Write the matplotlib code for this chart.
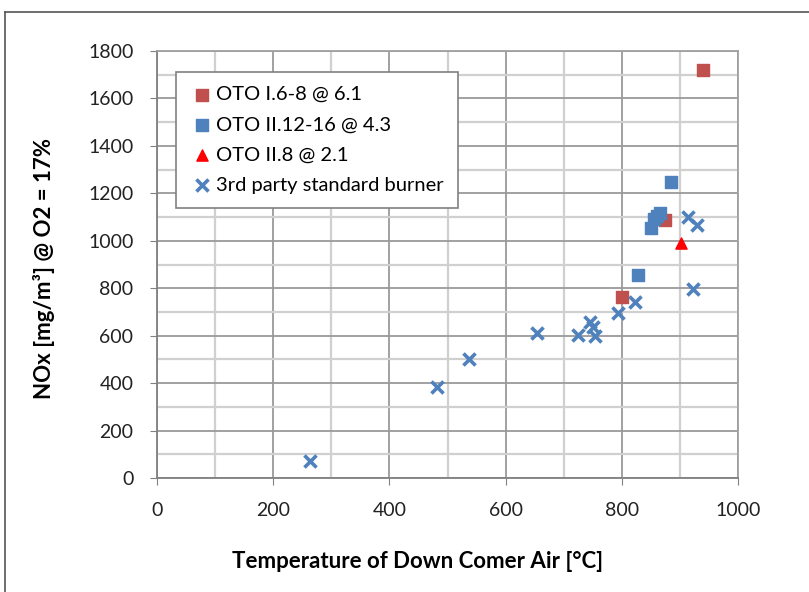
import matplotlib.pyplot as plt
from matplotlib.lines import Line2D
from matplotlib.ticker import MultipleLocator

# OTO I.6-8 @ 6.1
oto1_x = [800, 875, 940]
oto1_y = [763, 1086, 1720]
# OTO II.12-16 @ 4.3
oto2_x = [828, 850, 855, 860, 865, 885]
oto2_y = [856, 1055, 1090, 1105, 1115, 1248]
# OTO II.8 @ 2.1
oto3_x = [902]
oto3_y = [990]
# 3rd party standard burner
std_x = [263, 482, 537, 654, 725, 745, 751, 754, 793, 823, 914, 929, 923]
std_y = [72, 384, 502, 612, 603, 658, 637, 599, 696, 742, 1100, 1067, 797]

plt.rcParams['font.family'] = ['Lato', 'DejaVu Sans']

fig = plt.figure(figsize=(8.09, 5.92), dpi=100)
ax = fig.add_axes([157/809, 1 - 478/592, 581/809, 427/592])

# outer frame (top and left edges visible)
fig.add_artist(Line2D([5/809, 1.0], [1 - 12/592, 1 - 12/592], color='#555555', lw=1.2))
fig.add_artist(Line2D([5/809, 5/809], [0, 1 - 12/592], color='#555555', lw=1.2))

ax.scatter(oto1_x, oto1_y, marker='s', s=75, color='#C0504D', label='OTO I.6-8 @ 6.1', zorder=3)
ax.scatter(oto2_x, oto2_y, marker='s', s=75, color='#4F81BD', label='OTO II.12-16 @ 4.3', zorder=3)
ax.scatter(oto3_x, oto3_y, marker='^', s=65, color='#FF0000', label='OTO II.8 @ 2.1', zorder=3)
ax.scatter(std_x, std_y, marker='x', s=75, color='#4F81BD', linewidths=2.6,
           label='3rd party standard burner', zorder=3)

ax.set_xlim(0, 1000)
ax.set_ylim(0, 1800)
ax.xaxis.set_major_locator(MultipleLocator(200))
ax.xaxis.set_minor_locator(MultipleLocator(100))
ax.yaxis.set_major_locator(MultipleLocator(200))
ax.yaxis.set_minor_locator(MultipleLocator(100))
ax.grid(which='major', color='#9A9A9A', lw=1.3)
ax.grid(which='minor', color='#D0D0D0', lw=1.6)
ax.set_axisbelow(True)
for s in ax.spines.values():
    s.set_color('#A0A0A0')
    s.set_linewidth(1.3)
ax.spines['left'].set_color('#808080')
ax.spines['bottom'].set_color('#808080')
ax.tick_params(which='major', length=5, color='#808080', labelsize=14, labelcolor='#222222')
ax.tick_params(axis='y', pad=12)
ax.tick_params(axis='x', pad=12)
ax.tick_params(which='minor', length=0)

ax.set_xlabel('Temperature of Down Comer Air [°C]', fontsize=16, fontweight='bold')
ax.set_ylabel('NOx [mg/m³] @ O2 = 17%', fontsize=16, fontweight='bold')
ax.xaxis.set_label_coords(0.448, -0.172)
ax.yaxis.set_label_coords(-0.175, 0.49)

leg = ax.legend(loc='upper left', bbox_to_anchor=(0.033, 0.951), borderaxespad=0,
                fontsize=14.5, frameon=True, fancybox=False, handletextpad=0.1,
                handlelength=1.2, labelspacing=0.65, borderpad=0.7, scatterpoints=1)
leg.get_frame().set_edgecolor('#808080')
leg.get_frame().set_linewidth(1.2)
leg.get_frame().set_alpha(1)

fig.savefig('out.png', dpi=100)
